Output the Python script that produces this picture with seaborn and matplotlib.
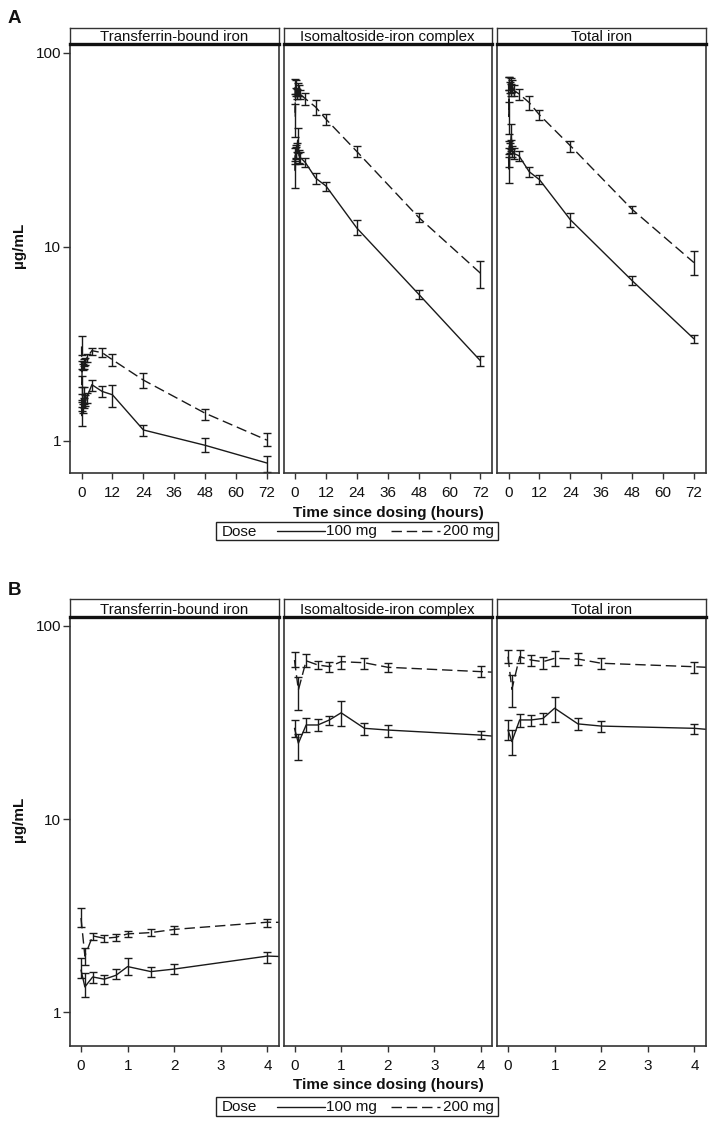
import numpy as np
import pandas as pd
import matplotlib
matplotlib.use("Agg")
import matplotlib.pyplot as plt
import seaborn as sns
from matplotlib import font_manager as fm
from matplotlib.lines import Line2D
from matplotlib.patches import Rectangle
from matplotlib.ticker import NullLocator, FixedLocator, FixedFormatter

# ---------------- data ----------------
times = [0, 0.083, 0.25, 0.5, 0.75, 1, 1.5, 2, 4, 8, 12, 24, 48, 72]
analytes = ["Transferrin-bound iron", "Isomaltoside-iron complex", "Total iron"]
doses = ["100 mg", "200 mg"]

tbi_100 = [1.65, 1.35, 1.52, 1.48, 1.55, 1.72, 1.62, 1.67, 1.95, 1.80, 1.73, 1.14, 0.95, 0.77]
tbi_100_lo = [1.50, 1.20, 1.42, 1.40, 1.48, 1.55, 1.52, 1.57, 1.80, 1.69, 1.50, 1.06, 0.88, 0.695]
tbi_100_hi = [1.90, 1.59, 1.62, 1.55, 1.67, 1.90, 1.72, 1.77, 2.05, 1.91, 1.94, 1.21, 1.03, 0.84]

tbi_200 = [3.07, 1.95, 2.48, 2.41, 2.44, 2.54, 2.58, 2.68, 2.92, 2.85, 2.62, 2.06, 1.39, 1.01]
tbi_200_lo = [2.76, 1.75, 2.36, 2.31, 2.34, 2.44, 2.47, 2.55, 2.77, 2.72, 2.44, 1.87, 1.29, 0.94]
tbi_200_hi = [3.46, 2.15, 2.57, 2.50, 2.55, 2.64, 2.68, 2.79, 3.03, 3.01, 2.81, 2.23, 1.47, 1.10]

iic_100 = [29.5, 24.7, 30.7, 30.7, 32.6, 35.5, 29.5, 28.9, 27.2, 22.6, 20.6, 12.5, 5.71, 2.59]
iic_100_lo = [26.7, 20.2, 28.4, 28.7, 30.7, 30.3, 27.2, 26.7, 25.9, 21.0, 19.5, 11.5, 5.38, 2.43]
iic_100_hi = [32.5, 27.7, 33.5, 32.9, 34.2, 41.0, 31.6, 30.7, 28.7, 24.1, 21.7, 13.7, 6.00, 2.74]

iic_200 = [66.6, 46.6, 66.0, 62.8, 61.6, 65.3, 64.5, 61.1, 58.0, 52.5, 45.5, 31.0, 14.2, 7.32]
iic_200_lo = [61.6, 36.7, 61.0, 59.6, 58.0, 60.2, 60.2, 57.5, 54.1, 47.9, 42.6, 29.0, 13.5, 6.11]
iic_200_hi = [72.9, 54.6, 72.0, 66.2, 65.3, 70.0, 68.6, 64.5, 62.3, 57.3, 48.5, 33.1, 14.9, 8.49]

tot_100 = [28.9, 25.2, 32.6, 32.6, 33.2, 37.5, 31.1, 30.3, 29.5, 24.4, 22.2, 13.8, 6.70, 3.36]
tot_100_lo = [25.7, 21.4, 30.0, 30.3, 31.1, 31.9, 28.9, 28.4, 27.7, 23.0, 21.1, 12.6, 6.36, 3.19]
tot_100_hi = [32.5, 28.9, 35.0, 34.5, 35.5, 43.0, 33.2, 32.2, 31.1, 25.9, 23.5, 14.9, 7.04, 3.52]

tot_200 = [69.3, 47.0, 69.3, 66.6, 65.3, 68.0, 67.4, 64.1, 61.5, 55.4, 47.9, 33.2, 15.6, 8.30]
tot_200_lo = [64.0, 38.0, 64.1, 62.3, 60.2, 62.3, 63.0, 59.6, 57.2, 50.7, 45.1, 31.0, 15.0, 7.18]
tot_200_hi = [75.4, 56.0, 75.4, 70.9, 69.3, 74.1, 72.3, 68.4, 65.3, 60.0, 50.7, 35.2, 16.2, 9.53]

xticks_A = [0, 12, 24, 36, 48, 60, 72]
xticks_B = [0, 1, 2, 3, 4]
yticks = [1, 10, 100]
ytick_labels = ["1", "10", "100"]
xlabel = "Time since dosing (hours)"
ylabel = "\u00b5g/mL"

series = {
    ("Transferrin-bound iron", "100 mg"): (tbi_100, tbi_100_lo, tbi_100_hi),
    ("Transferrin-bound iron", "200 mg"): (tbi_200, tbi_200_lo, tbi_200_hi),
    ("Isomaltoside-iron complex", "100 mg"): (iic_100, iic_100_lo, iic_100_hi),
    ("Isomaltoside-iron complex", "200 mg"): (iic_200, iic_200_lo, iic_200_hi),
    ("Total iron", "100 mg"): (tot_100, tot_100_lo, tot_100_hi),
    ("Total iron", "200 mg"): (tot_200, tot_200_lo, tot_200_hi),
}
rows = []
for (an, d), (m, lo, hi) in series.items():
    for t, a, b, c in zip(times, m, lo, hi):
        rows.append(dict(analyte=an, dose=d, time=t, mean=a, lo=b, hi=c))
df = pd.DataFrame(rows)

# ---------------- style ----------------
def pick(fams):
    for f in fams:
        try:
            fm.findfont(fm.FontProperties(family=f), fallback_to_default=False)
            return f
        except Exception:
            pass
    return "DejaVu Sans"

sns.set_theme(style="white")
FONT = pick(["Liberation Sans", "Arial"])
plt.rcParams["font.family"] = [FONT, "DejaVu Sans"]

INK = "#1a1a1a"
FRAME = "#333333"
W, H = 712, 1123
fig = plt.figure(figsize=(W / 100, H / 100), dpi=100)
fig.patch.set_facecolor("white")

def fx(x):
    return x / W

def fy(y):
    return 1 - y / H

def frect(x0, y0, x1, y1):
    return [x0 / W, 1 - y1 / H, (x1 - x0) / W, (y1 - y0) / H]

facet_x = [(70, 278.5), (283.5, 492), (497, 705.5)]
panels = [
    dict(letter="A", letter_y=22.7, strip=(28, 44), plot=(44, 473), xlim=(-4.5, 76.5),
         xticks=xticks_A, ylim=(0.684, 111.0), ylab_y=245, xlab_y=513, leg=(522, 540)),
    dict(letter="B", letter_y=595, strip=(599, 617), plot=(617, 1046), xlim=(-0.236, 4.236),
         xticks=xticks_B, ylim=(0.667, 111.3), ylab_y=819, xlab_y=1085, leg=(1097, 1116)),
]
dash_map = {"100 mg": "", "200 mg": (7.5, 3.5)}

for p in panels:
    for i, (an, (x0, x1)) in enumerate(zip(analytes, facet_x)):
        ax = fig.add_axes(frect(x0, p["plot"][0], x1, p["plot"][1]))
        sub = df[df["analyte"] == an]
        sns.lineplot(data=sub, x="time", y="mean", style="dose", style_order=doses,
                     dashes=dash_map, color=INK, lw=1.0, estimator=None, sort=True,
                     legend=False, ax=ax)
        for d in doses:
            s = sub[sub["dose"] == d]
            ax.errorbar(s["time"], s["mean"], yerr=[s["mean"] - s["lo"], s["hi"] - s["mean"]],
                        fmt="none", ecolor=INK, elinewidth=1.0, capsize=3.1, capthick=1.0)
        ax.set_yscale("log")
        ax.set_xlim(*p["xlim"])
        ax.set_ylim(*p["ylim"])
        ax.set_xlabel("")
        ax.set_ylabel("")
        ax.set_facecolor("white")
        ax.xaxis.set_major_locator(FixedLocator(p["xticks"]))
        ax.xaxis.set_major_formatter(FixedFormatter([str(v) for v in p["xticks"]]))
        ax.xaxis.set_minor_locator(NullLocator())
        ax.yaxis.set_minor_locator(NullLocator())
        ax.tick_params(axis="x", direction="out", length=4.5, width=1.0, color=FRAME,
                       labelsize=11, pad=5, bottom=True, labelcolor="#111111")
        if i == 0:
            ax.yaxis.set_major_locator(FixedLocator(yticks))
            ax.yaxis.set_major_formatter(FixedFormatter(ytick_labels))
            ax.tick_params(axis="y", direction="out", length=5, width=1.0, color=FRAME,
                           labelsize=11, pad=1.5, left=True, labelcolor="#111111")
        else:
            ax.set_yticks([])
            ax.tick_params(axis="y", left=False, labelleft=False)
        for sp in ax.spines.values():
            sp.set_color(FRAME)
            sp.set_linewidth(1.2)
            sp.set_visible(True)

        # strip
        sax = fig.add_axes(frect(x0, p["strip"][0], x1, p["strip"][1]))
        sax.set_xticks([])
        sax.set_yticks([])
        sax.set_facecolor("white")
        for k, sp in sax.spines.items():
            sp.set_color(FRAME)
            sp.set_linewidth(1.0 if k != "bottom" else 2.4)
        sax.spines["bottom"].set_color("#111111")
        sax.text(0.5, 0.16, an, ha="center", va="baseline", fontsize=10.8,
                 color="#111111", transform=sax.transAxes)

    # panel letter, axis labels
    fig.text(fx(8), fy(p["letter_y"]), p["letter"], ha="left", va="baseline",
             fontsize=13.5, fontweight="bold", color="#111111")
    fig.text(fx(19), fy(p["ylab_y"]), ylabel, rotation=90, ha="center", va="center",
             fontsize=11, fontweight="bold", color="#111111")
    fig.text(fx(388), fy(p["xlab_y"]), xlabel, ha="center", va="center",
             fontsize=11, fontweight="bold", color="#111111")

    # legend box
    t, b = p["leg"]
    cy = (t + b) / 2
    fig.add_artist(Rectangle((fx(215.5), fy(b)), (497.7 - 215.5) / W, (b - t) / H,
                             fill=False, edgecolor="#222222", lw=1.0,
                             transform=fig.transFigure))
    fig.text(fx(222), fy(cy + 0.5), "Dose", ha="left", va="center", fontsize=11,
             color="#111111")
    fig.add_artist(Line2D([fx(277), fx(325)], [fy(cy), fy(cy)], color=INK, lw=1.0,
                          transform=fig.transFigure))
    fig.text(fx(326), fy(cy + 0.5), "100 mg", ha="left", va="center", fontsize=11,
             color="#111111")
    fig.add_artist(Line2D([fx(391), fx(440)], [fy(cy), fy(cy)], color=INK, lw=1.0,
                          dashes=(7.5, 3.5), transform=fig.transFigure))
    fig.text(fx(443), fy(cy + 0.5), "200 mg", ha="left", va="center", fontsize=11,
             color="#111111")

fig.savefig("out.png", dpi=100, facecolor="white")
